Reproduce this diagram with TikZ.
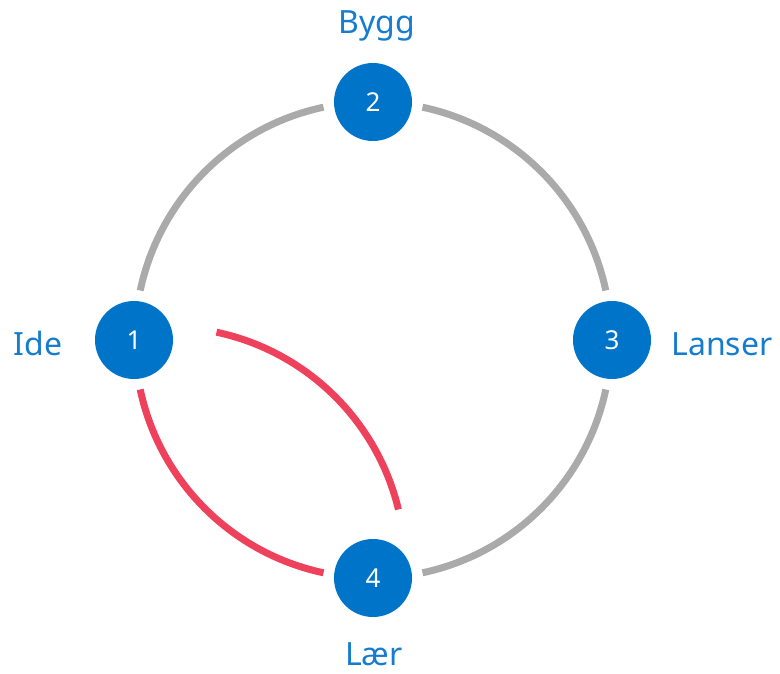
\documentclass[tikz,border=0pt]{standalone}
\usepackage{fontspec}
\setmainfont{Noto Sans}
\definecolor{nodeblue}{RGB}{0,116,200}
\definecolor{textblue}{RGB}{22,124,206}
\definecolor{arcgray}{RGB}{170,170,170}
\definecolor{arcred}{RGB}{238,66,92}
\begin{document}
\begin{tikzpicture}[x=1pt,y=1pt,
  stepnode/.style={circle,fill=nodeblue,minimum size=78pt,inner sep=0pt,text=white,font=\fontsize{26}{30}\selectfont},
  label/.style={text=textblue,inner sep=0pt,anchor=base,font=\fontsize{32}{38}\selectfont},
  grayarc/.style={draw=arcgray,line width=7pt},
  redarc/.style={draw=arcred,line width=7pt}]
\useasboundingbox (0,0) rectangle (780,673);
\coordinate (C) at (373,333);
\coordinate (R) at (167,108);
\node[stepnode] (n1) at ([shift={(180:239)}]C) {1};
\node[stepnode] (n2) at ([shift={(90:238)}]C) {2};
\node[stepnode] (n3) at ([shift={(0:239)}]C) {3};
\node[stepnode] (n4) at ([shift={(270:238)}]C) {4};
\node[label] (l1) at (38,317) {Ide};
\node[label] (l2) at (377,639) {Bygg};
\node[label] (l3) at (722,317) {Lanser};
\node[label] (l4) at (374,8) {Lær};
\draw[grayarc] ([shift={(168:238)}]C) arc[start angle=168,end angle=102,radius=238];
\draw[grayarc] ([shift={(78:238)}]C) arc[start angle=78,end angle=12,radius=238];
\draw[grayarc] ([shift={(-12:238)}]C) arc[start angle=-12,end angle=-78,radius=238];
\draw[redarc] ([shift={(192:238)}]C) arc[start angle=192,end angle=258,radius=238];
\draw[redarc] ([shift={(78:238)}]R) arc[start angle=78,end angle=13.5,radius=238];
\end{tikzpicture}
\end{document}
